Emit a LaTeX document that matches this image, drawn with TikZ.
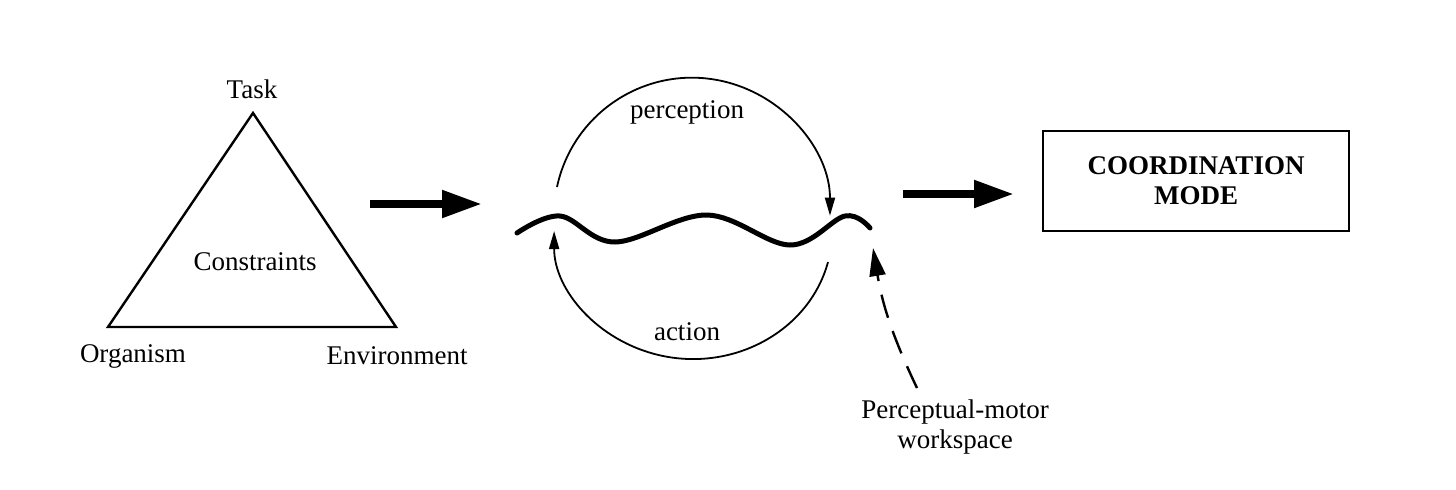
\documentclass[tikz,border=0pt]{standalone}
\usepackage{fontspec}
\setmainfont{Liberation Serif}
\usetikzlibrary{arrows.meta}
\begin{document}
\begin{tikzpicture}[x=0.5pt,y=-0.5pt,
  lbl/.style={font=\fontsize{13.5}{15}\selectfont,inner sep=0pt},
  fat/.style={line width=4pt,-{Triangle[length=20pt,width=13pt]}},
  thin/.style={line width=0.9pt,-{Triangle[length=9pt,width=5pt]}}]
\useasboundingbox (0,0) rectangle (1456,489);
\coordinate (A) at (253,113);
\coordinate (L) at (108,327);
\coordinate (R) at (396,327);
\draw[line width=1.2pt,line join=miter] (A) -- (L) -- (R) -- cycle;
\node[lbl] (task) at (252,89) {Task};
\node[lbl] (con) at (255,262) {Constraints};
\node[lbl] (org) at (133,356) {Organism};
\node[lbl] (env) at (397,356) {Environment};
\coordinate (a1s) at (370,204); \coordinate (a1e) at (482,204);
\draw[fat] (a1s) -- (a1e);
\coordinate (a2s) at (903,194); \coordinate (a2e) at (1014,194);
\draw[fat] (a2s) -- (a2e);
\node[draw,line width=1.2pt,minimum width=153pt,minimum height=50pt,align=center,
  font=\fontsize{13.5}{15}\bfseries\selectfont] (mode) at (1196,181) {COORDINATION\\MODE};
\draw[line width=2.5pt,line cap=round] plot[smooth,tension=0.6] coordinates
  {(517,233) (560,216) (615,242) (707,215) (790,245) (845,216) (870,228)};
\coordinate (ps) at (557,187);
\draw[thin] (ps) arc[start angle=168,end angle=0,radius=69pt];
\coordinate (as) at (828,262);
\draw[thin] (as) arc[start angle=-14,end angle=-180,x radius=69.5pt,y radius=64pt];
\node[lbl] (perc) at (687,112) {perception};
\node[lbl] (act) at (687,332) {action};
\node[lbl,align=center] (pmw) at (955,427) {Perceptual-motor\\workspace};
\coordinate (ws) at (917,388);
\coordinate (wt) at (873,248);
\draw[line width=1.2pt,dash pattern=on 12pt off 7pt,-{Triangle[length=14pt,width=8pt]}]
  (ws) to[bend left=8] (wt);
\end{tikzpicture}
\end{document}
